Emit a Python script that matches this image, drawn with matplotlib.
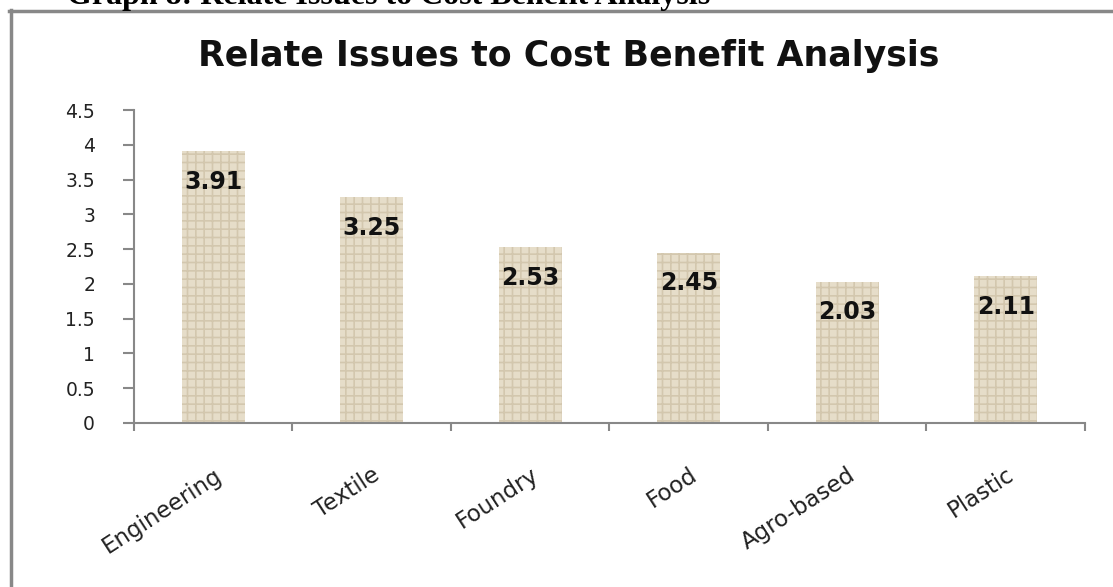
import numpy as np
import matplotlib.pyplot as plt
from matplotlib.lines import Line2D
from matplotlib.transforms import ScaledTranslation

# данные графика
categories = ['Engineering', 'Textile', 'Foundry', 'Food', 'Agro-based', 'Plastic']
scores = [3.91, 3.25, 2.53, 2.45, 2.03, 2.11]
y_ticks = [0, 0.5, 1, 1.5, 2, 2.5, 3, 3.5, 4, 4.5]

plt.rcParams['hatch.linewidth'] = 1.2

fig = plt.figure(figsize=(11.13, 5.87), dpi=100)
ax = fig.add_axes([0.1204, 0.2794, 0.8544, 0.5332])

x = np.arange(len(categories))
bars = ax.bar(x, scores, width=0.4, color='#e6ddc9', edgecolor='#d3c7ae',
              linewidth=0, hatch='++')

for xi, v in zip(x, scores):
    ax.annotate(f'{v:.2f}', (xi, v), xytext=(0, -22), textcoords='offset points',
                ha='center', va='center', fontsize=17, fontweight='bold',
                family='DejaVu Sans', color='#111111')

ax.set_xlim(-0.5, len(categories) - 0.5)
ax.set_ylim(0, 4.5)
ax.set_yticks(y_ticks)
ax.set_yticklabels([f'{t:g}' for t in y_ticks], fontsize=13.5, color='#222222')

# подписи категорий по центру, засечки по границам
ax.set_xticks(x)
labels = ax.set_xticklabels(categories, rotation=33, ha='right', va='top',
                            rotation_mode='anchor', fontsize=16.5, color='#222222')
shift = ScaledTranslation(6 / 72, 0, fig.dpi_scale_trans)
for lab in labels:
    lab.set_transform(lab.get_transform() + shift)
ax.tick_params(axis='x', which='major', length=0, pad=29)
ax.set_xticks(np.arange(len(categories) + 1) - 0.5, minor=True)
ax.tick_params(axis='x', which='minor', length=6, width=1.5, color='#888888', direction='out')
ax.tick_params(axis='y', length=8, width=1.5, color='#888888', pad=20)

for side in ['top', 'right']:
    ax.spines[side].set_visible(False)
for side in ['left', 'bottom']:
    ax.spines[side].set_color('#888888')
    ax.spines[side].set_linewidth(1.5)

fig.text(0.511, 1 - 66 / 587, 'Relate Issues to Cost Benefit Analysis',
         ha='center', va='baseline', fontsize=25, fontweight='bold',
         family='DejaVu Sans', color='#111111')

# обрезанная подпись сверху
fig.text(67 / 1113, 1 - 4 / 587, 'Graph 8: Relate Issues to Cost Benefit Analysis',
         ha='left', va='baseline', fontsize=23, fontweight='bold',
         family='Liberation Serif', color='black')

# рамка диаграммы
fig.add_artist(Line2D([10.5 / 1113, 10.5 / 1113], [0, 1 - 10 / 587],
                      transform=fig.transFigure, color='#888888', lw=2.5))
fig.add_artist(Line2D([9 / 1113, 1], [1 - 11 / 587, 1 - 11 / 587],
                      transform=fig.transFigure, color='#888888', lw=2.5))

fig.savefig('out.png', dpi=100)
